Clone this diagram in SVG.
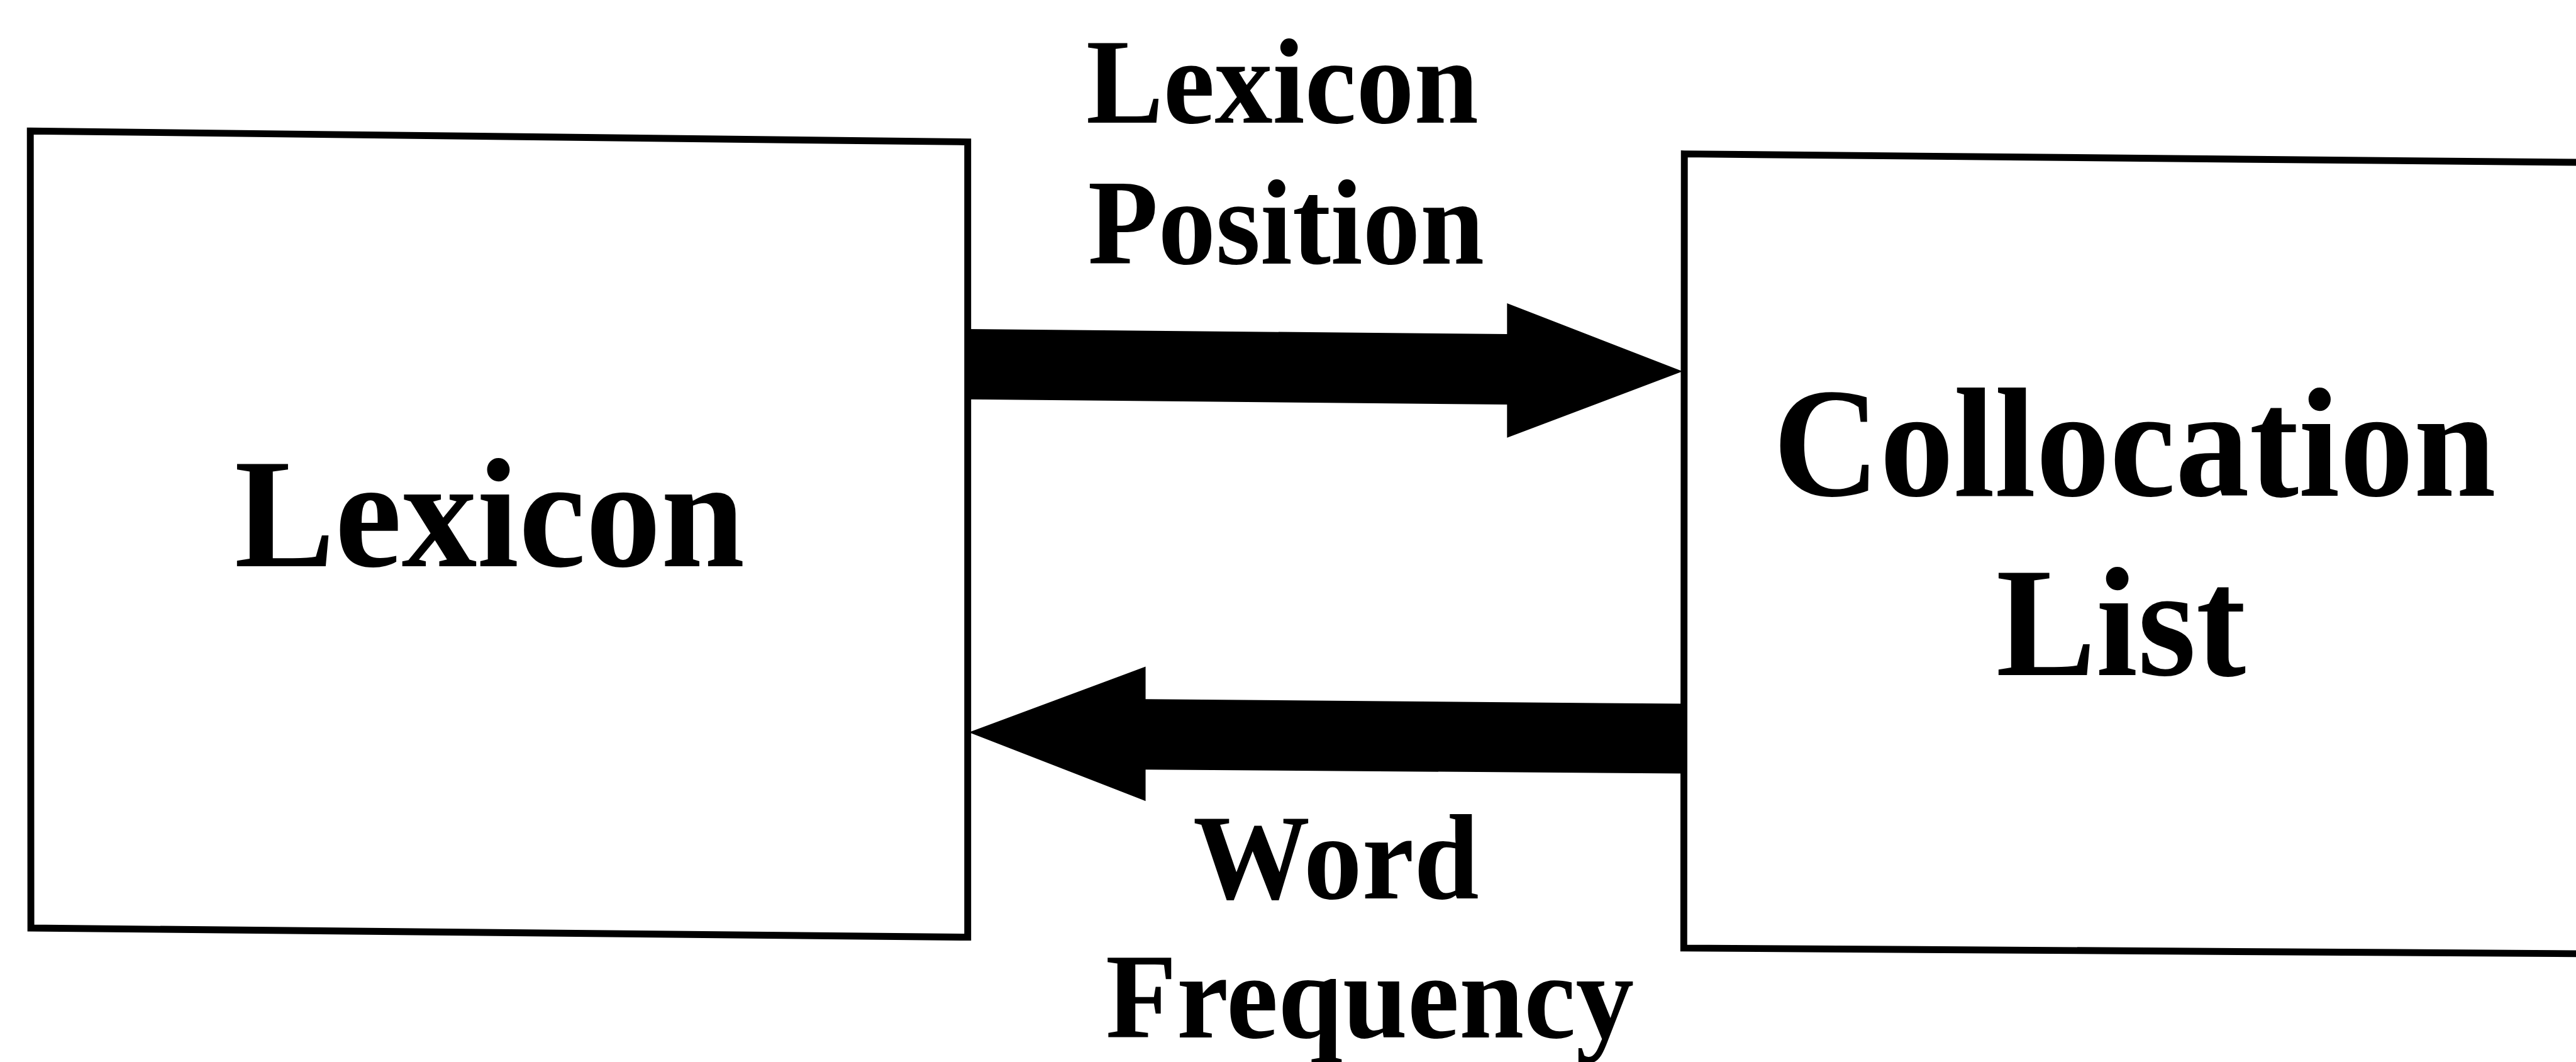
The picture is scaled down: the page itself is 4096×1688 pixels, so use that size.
<svg xmlns="http://www.w3.org/2000/svg" width="4096" height="1688" viewBox="0 0 4096 1688">
  <style>
    .box { fill: #ffffff; stroke: #000000; stroke-width: 12; stroke-linejoin: miter; }
    .arrow { fill: #000000; stroke: none; }
    .txt { font-family: "Liberation Serif", "Times New Roman", serif; font-weight: bold; fill: #000000; }
    .main { font-size: 272px; }
    .edge { font-size: 212px; }
  </style>
  <rect width="4096" height="1688" fill="#ffffff"/>
  <!-- drawn in 4504x1856 units, scaled to the 4096x1688 canvas -->
  <g transform="scale(0.90941)">
    <g id="node-lexicon">
      <path class="box" d="M53 229 L1692 248 L1692 1638 L54 1622 Z"/>
      <text class="txt main" x="410" y="990" textLength="892" lengthAdjust="spacingAndGlyphs">Lexicon</text>
    </g>
    <g id="node-collocation-list">
      <path class="box" d="M2945 269 L4530 284 L4530 1667 L2944 1657 Z"/>
      <text class="txt main" x="3100" y="866" textLength="1264" lengthAdjust="spacingAndGlyphs">Collocation</text>
      <text class="txt main" x="3490" y="1180" textLength="437" lengthAdjust="spacingAndGlyphs">List</text>
    </g>
    <g id="connectors">
      <g id="edge-lexicon-position">
        <polygon class="arrow" points="1692,575 2635,584 2635,530 2942,649 2635,765 2635,707 1692,698"/>
        <text class="txt edge" x="1899" y="214" textLength="686" lengthAdjust="spacingAndGlyphs">Lexicon</text>
        <text class="txt edge" x="1902" y="461" textLength="693" lengthAdjust="spacingAndGlyphs">Position</text>
      </g>
      <g id="edge-word-frequency">
        <polygon class="arrow" points="2944,1230 2003,1222 2003,1165 1694,1280 2003,1400 2003,1345 2944,1352"/>
        <text class="txt edge" x="2086" y="1570" textLength="500" lengthAdjust="spacingAndGlyphs">Word</text>
        <text class="txt edge" x="1933" y="1813" textLength="924" lengthAdjust="spacingAndGlyphs">Frequency</text>
      </g>
    </g>
  </g>
</svg>
